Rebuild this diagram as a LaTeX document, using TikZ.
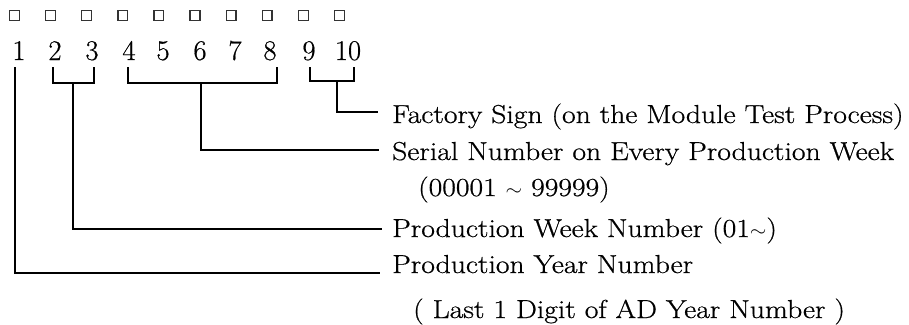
\documentclass[tikz,border=0pt]{standalone}
\usepackage{graphicx}
\usepackage{fontspec}
\setmainfont{Latin Modern Roman}
\newfontfamily\heavy{Latin Modern Roman}[FakeBold=0.6]
\tikzset{
  sq/.style={draw=black!80, line width=1.3pt, minimum size=9.8pt, inner sep=0pt},
  digit/.style={anchor=base, inner sep=0pt, font=\heavy\fontsize{28.5}{30}\selectfont},
  lbl/.style={anchor=base west, inner sep=0pt, font=\heavy\fontsize{26}{30}\selectfont},
  lnk/.style={line width=1.8pt, line cap=rect}
}
\newcommand{\tld}{\raisebox{0.02em}{\scalebox{0.75}{$\sim$}}}
\newcommand{\widetxt}[1]{\scalebox{1.14}[1]{#1}}
\begin{document}
\begin{tikzpicture}[x=1pt,y=-1pt]
\useasboundingbox (0,0) rectangle (909,324);
% squares
\foreach \i in {0,...,9} {
  \node[sq] (s\i) at ({14.5+36.1*\i},15.5) {};
}
% digits
\node[digit] (d1) at (19,60) {1};
\node[digit] (d2) at (55,60) {2};
\node[digit] (d3) at (92,60) {3};
\node[digit] (d4) at (129,60) {4};
\node[digit] (d5) at (163,60) {5};
\node[digit] (d6) at (200,60) {6};
\node[digit] (d7) at (235,60) {7};
\node[digit] (d8) at (270,60) {8};
\node[digit] (d9) at (309,60) {9};
\node[digit] (d10) at (348,60) {10};
% labels
\node[lbl] (tf) at (392,123) {\widetxt{Factory Sign (on the Module Test Process)}};
\node[lbl] (ts) at (392,160) {\widetxt{Serial Number on Every Production Week}};
\node[lbl] (ts2) at (418,196) {\widetxt{(00001 \tld\ 99999)}};
\node[lbl] (tw) at (392,237) {\widetxt{Production Week Number (01\tld)}};
\node[lbl] (ty) at (392,273) {\widetxt{Production Year Number}};
\node[lbl] (ty2) at (413,318) {\widetxt{( Last 1 Digit of AD Year Number )}};
% coordinates
\coordinate (e1) at (379,273);
\coordinate (e23) at (381,229);
\coordinate (e48) at (378,150);
\coordinate (e910) at (377,112);
% digit 1
\draw[lnk] (15,68) |- (e1);
% 2-3
\draw[lnk] (53,68) |- (94,83) -- (94,68);
\draw[lnk] (73,83) |- (e23);
% 4-8
\draw[lnk] (128,68) |- (277,83) -- (277,68);
\draw[lnk] (201,83) |- (e48);
% 9-10
\draw[lnk] (310,68) |- (354,81) -- (354,68);
\draw[lnk] (337,81) |- (e910);
\end{tikzpicture}
\end{document}
